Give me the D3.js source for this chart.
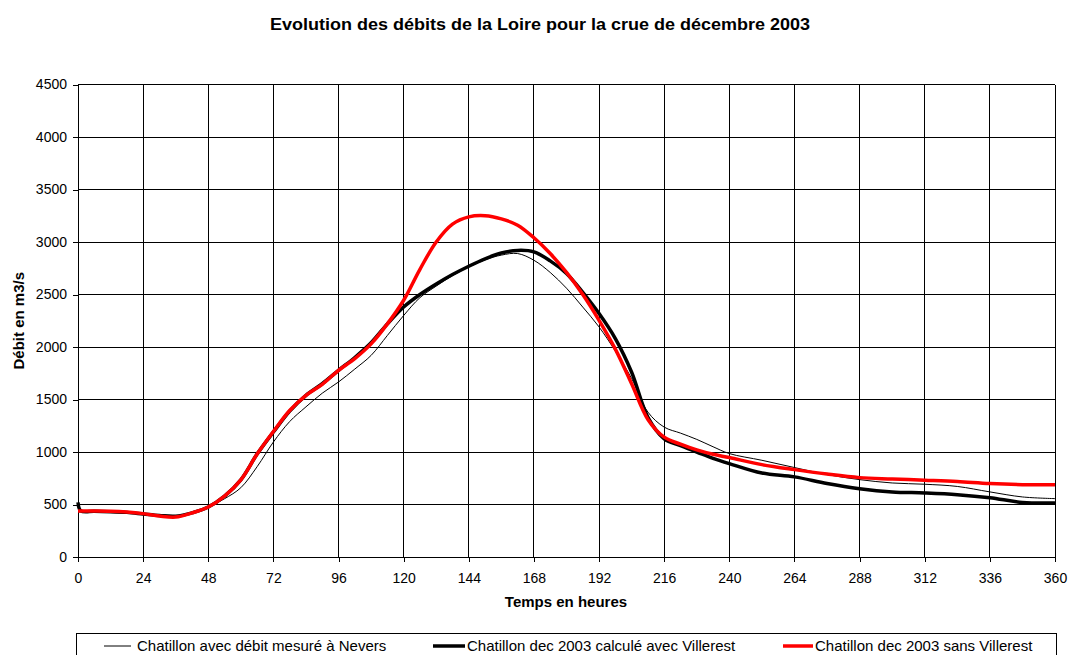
<!DOCTYPE html>
<html>
<head>
<meta charset="utf-8">
<script src="https://cdn.jsdelivr.net/npm/d3@7"></script>
<style>
  body { margin: 0; background: #fff; }
  svg { font-family: "Liberation Sans", Arial, sans-serif; }
</style>
</head>
<body>
<div id="chart"></div>
<script>
// hours
const hours = [0, 1, 6, 12, 18, 24, 30, 36, 42, 48, 54, 60, 66, 72, 78, 84, 90, 96, 102, 108, 114,
  120, 126, 132, 138, 144, 150, 156, 162, 168, 174, 180, 186, 192, 198, 204, 210, 216, 222, 228, 234,
  240, 252, 264, 276, 288, 300, 312, 324, 336, 348, 360];

const nevers = [430, 430, 430, 430, 425, 413, 400, 395, 420, 476, 555, 660, 860, 1095, 1290, 1430, 1560, 1667, 1790, 1920, 2110,
  2300, 2470, 2580, 2680, 2763, 2830, 2875, 2890, 2826, 2710, 2560, 2380, 2191, 1960, 1700, 1380, 1237, 1180, 1120, 1050,
  985, 921, 852, 785, 737, 705, 693, 672, 620, 572, 556];

const avecVillerest = [520, 440, 435, 432, 425, 410, 395, 388, 420, 476, 580, 735, 980, 1190, 1390, 1540, 1650, 1778, 1900, 2040, 2220,
  2381, 2500, 2600, 2690, 2769, 2840, 2895, 2920, 2906, 2820, 2700, 2520, 2318, 2080, 1760, 1330, 1126, 1060, 1000, 940,
  890, 800, 763, 700, 651, 620, 610, 594, 565, 520, 515];

const sansVillerest = [438, 438, 438, 436, 428, 413, 390, 380, 420, 476, 580, 735, 980, 1195, 1395, 1540, 1645, 1778, 1890, 2030, 2220,
  2445, 2740, 3000, 3170, 3239, 3250, 3220, 3160, 3040, 2890, 2710, 2500, 2254, 1980, 1650, 1310, 1141, 1075, 1020, 978,
  947, 880, 832, 790, 756, 743, 731, 718, 699, 689, 689];

const xTicks = d3.range(0, 361, 24);
const yTicks = d3.range(0, 4501, 500);

const seriesNames = ["Chatillon avec débit mesuré à Nevers", "Chatillon dec 2003 calculé avec Villerest", "Chatillon dec 2003 sans Villerest"];

const width = 1070, height = 655;
const margin = {left: 78, right: 15, top: 84.5, bottom: 98};

const svg = d3.select("#chart").append("svg")
  .attr("width", width)
  .attr("height", height);

const x = d3.scaleLinear().domain([0, 360]).range([margin.left, width - margin.right]);
const y = d3.scaleLinear().domain([0, 4500]).range([height - margin.bottom, margin.top]);

// title
svg.append("text")
  .attr("x", 540).attr("y", 30)
  .attr("text-anchor", "middle")
  .style("font-size", "17px").style("font-weight", "bold")
  .attr("textLength", 540).attr("lengthAdjust", "spacingAndGlyphs")
  .text("Evolution des débits de la Loire pour la crue de décembre 2003");

// grid
svg.append("g").selectAll("line.h")
  .data(yTicks)
  .join("line")
  .attr("x1", x(0)).attr("x2", x(360))
  .attr("y1", d => y(d)).attr("y2", d => y(d))
  .attr("stroke", "#000").attr("stroke-width", 1)
  .attr("shape-rendering", "crispEdges");

svg.append("g").selectAll("line.v")
  .data(xTicks)
  .join("line")
  .attr("y1", y(0)).attr("y2", y(4500))
  .attr("x1", d => x(d)).attr("x2", d => x(d))
  .attr("stroke", "#000").attr("stroke-width", 1)
  .attr("shape-rendering", "crispEdges");

// axes
const xAxis = svg.append("g")
  .attr("transform", `translate(0,${y(0)})`)
  .call(d3.axisBottom(x).tickValues(xTicks).tickSize(5).tickSizeOuter(0).tickFormat(d3.format("d")));
const yAxis = svg.append("g")
  .attr("transform", `translate(${x(0)},0)`)
  .call(d3.axisLeft(y).tickValues(yTicks).tickSize(5).tickSizeOuter(0).tickFormat(d3.format("d")).tickPadding(6));
[xAxis, yAxis].forEach(a => {
  a.select(".domain").remove();
  a.selectAll("line").attr("stroke", "#000").attr("shape-rendering", "crispEdges");
  a.selectAll("text").style("font-size", "14px").style("font-family", "Liberation Sans, Arial, sans-serif").attr("fill", "#000");
});
xAxis.selectAll("text").attr("y", 26).attr("dy", null);

svg.append("text")
  .attr("x", 566).attr("y", 607)
  .attr("text-anchor", "middle")
  .style("font-size", "15px").style("font-weight", "bold")
  .text("Temps en heures");

svg.append("text")
  .attr("transform", `translate(24,${(y(0) + y(4500)) / 2}) rotate(-90)`)
  .attr("text-anchor", "middle")
  .style("font-size", "15px").style("font-weight", "bold")
  .text("Débit en m3/s");

// lines
const line = d3.line()
  .x((d, i) => x(hours[i]))
  .y(d => y(d))
  .curve(d3.curveCatmullRom.alpha(0.5));

const styles = [
  {data: nevers, color: "#000", w: 1},
  {data: avecVillerest, color: "#000", w: 3.5},
  {data: sansVillerest, color: "#ff0000", w: 3.5}
];

styles.forEach(s => {
  svg.append("path")
    .datum(s.data)
    .attr("d", line)
    .attr("fill", "none")
    .attr("stroke", s.color)
    .attr("stroke-width", s.w)
    .attr("stroke-linejoin", "round");
});

// legend
svg.append("rect")
  .attr("x", 76.5).attr("y", 633.5)
  .attr("width", 980).attr("height", 40)
  .attr("fill", "#fff").attr("stroke", "#000");

const legendPos = [{x1: 104, x2: 131, tx: 137}, {x1: 433, x2: 465, tx: 467}, {x1: 783, x2: 813, tx: 815}];
legendPos.forEach((p, i) => {
  svg.append("line")
    .attr("x1", p.x1).attr("x2", p.x2)
    .attr("y1", 646).attr("y2", 646)
    .attr("stroke", styles[i].color)
    .attr("stroke-width", styles[i].w);
  svg.append("text")
    .attr("x", p.tx).attr("y", 651)
    .style("font-size", "15px")
    .text(seriesNames[i]);
});
</script>
</body>
</html>
